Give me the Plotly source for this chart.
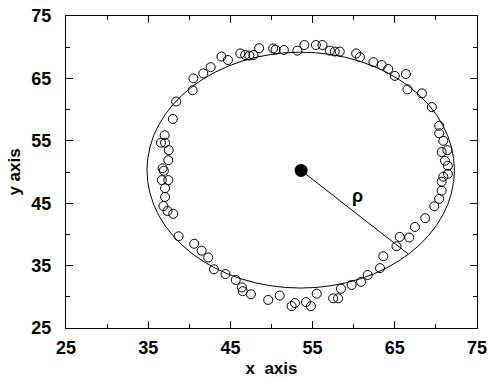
import plotly.graph_objects as go

# Measured points (x, y)
pts_x = [38.4, 40.4, 40.5, 41.7, 42.6, 43.9, 44.7, 46.2, 46.8, 47.3, 47.8, 48.5, 50.2, 50.5, 51.5,
         53.15, 54.0, 55.4, 56.2, 57.1, 57.7, 58.3, 60.3, 60.75, 62.4, 63.4, 64.2, 65.0, 66.35, 66.55,
         68.3, 69.5,
         70.4, 70.4, 70.9, 71.4, 70.7, 71.1, 71.45, 71.45, 70.9, 70.7, 70.7, 70.4, 69.8, 68.7, 67.45,
         66.75, 65.6, 65.2,
         63.6, 63.2, 61.7, 60.9, 59.75, 58.45, 58.1, 57.5, 55.5, 54.8, 54.2, 52.85, 52.45, 51.0, 49.6,
         47.5, 46.5, 46.4, 45.65, 44.4, 43.0, 42.3, 41.5, 40.6, 38.7,
         38.05, 37.35, 36.85, 37.05, 37.05, 36.65, 37.45, 36.9, 36.75, 37.45, 37.5, 36.55, 37.05, 37.0, 38.0]
pts_y = [61.3, 63.1, 65.0, 65.8, 66.8, 68.5, 67.95, 69.0, 68.75, 68.65, 68.75, 69.85, 69.8, 69.6, 69.55,
         69.45, 70.35, 70.35, 70.35, 69.45, 69.3, 69.3, 69.0, 68.4, 67.6, 67.15, 66.5, 65.4, 65.7, 63.25,
         62.6, 60.4,
         57.4, 56.2, 55.0, 53.5, 53.2, 51.8, 51.0, 49.7, 49.25, 48.45, 47.0, 45.7, 44.5, 42.6, 41.2,
         39.5, 39.6, 38.1,
         36.5, 34.6, 33.5, 32.4, 31.9, 31.3, 29.75, 29.75, 30.5, 28.5, 29.15, 29.0, 28.5, 30.2, 29.5,
         30.4, 30.9, 31.5, 32.7, 33.65, 34.4, 36.3, 37.4, 38.5, 39.7,
         43.3, 43.75, 44.55, 46.0, 47.4, 48.7, 48.7, 50.2, 50.6, 51.9, 53.5, 54.7, 54.7, 55.9, 58.5]

center = [53.6, 50.25]
ellipse_center = [53.55, 50.3]
ellipse_radii = [18.7, 18.9]
rho_end = [66.6, 36.9]
rho_label_pos = [60.5, 46.2]

tick_vals = [25, 35, 45, 55, 65, 75]

fig = go.Figure()

fig.add_shape(type="circle", xref="x", yref="y",
              x0=ellipse_center[0] - ellipse_radii[0], x1=ellipse_center[0] + ellipse_radii[0],
              y0=ellipse_center[1] - ellipse_radii[1], y1=ellipse_center[1] + ellipse_radii[1],
              line=dict(color="black", width=1))

fig.add_trace(go.Scatter(x=[center[0], rho_end[0]], y=[center[1], rho_end[1]], mode="lines",
                         line=dict(color="black", width=1), showlegend=False, hoverinfo="skip"))

fig.add_trace(go.Scatter(x=pts_x, y=pts_y, mode="markers",
                         marker=dict(symbol="circle-open", size=9, color="black", line=dict(width=1)),
                         showlegend=False))

fig.add_trace(go.Scatter(x=[center[0]], y=[center[1]], mode="markers",
                         marker=dict(symbol="circle", size=13, color="black"), showlegend=False))

fig.add_annotation(x=rho_label_pos[0], y=rho_label_pos[1], text="ρ", showarrow=False,
                   font=dict(family="Liberation Sans", size=18, color="black", weight="bold"))

axis_common = dict(
    showgrid=False, zeroline=False, showline=True, linecolor="black", linewidth=1,
    mirror="ticks", ticks="inside", ticklen=7, tickcolor="black", tickwidth=1,
    tickvals=tick_vals, ticktext=[str(v) for v in tick_vals], range=[25, 75],
    tickfont=dict(family="Liberation Sans", size=18, color="black", weight="bold"),
    minor=dict(ticks="inside", ticklen=4, tickcolor="black", tick0=25, dtick=5, showgrid=False),
    automargin=False,
)

fig.update_xaxes(**axis_common, ticklabelstandoff=3,
                 title=dict(text="x\u00a0\u00a0axis", standoff=5,
                            font=dict(family="Liberation Sans", size=17, color="black", weight="bold")))
fig.update_yaxes(**axis_common, ticklabelstandoff=10,
                 title=dict(text="y axis", standoff=6,
                            font=dict(family="Liberation Sans", size=17, color="black", weight="bold")))

fig.update_layout(width=489, height=381, margin=dict(l=66, r=12, t=16, b=53),
                  plot_bgcolor="white", paper_bgcolor="white", showlegend=False)

fig.write_html("out.html", post_script="document.body.style.margin='0';",
               config={"displayModeBar": False})
